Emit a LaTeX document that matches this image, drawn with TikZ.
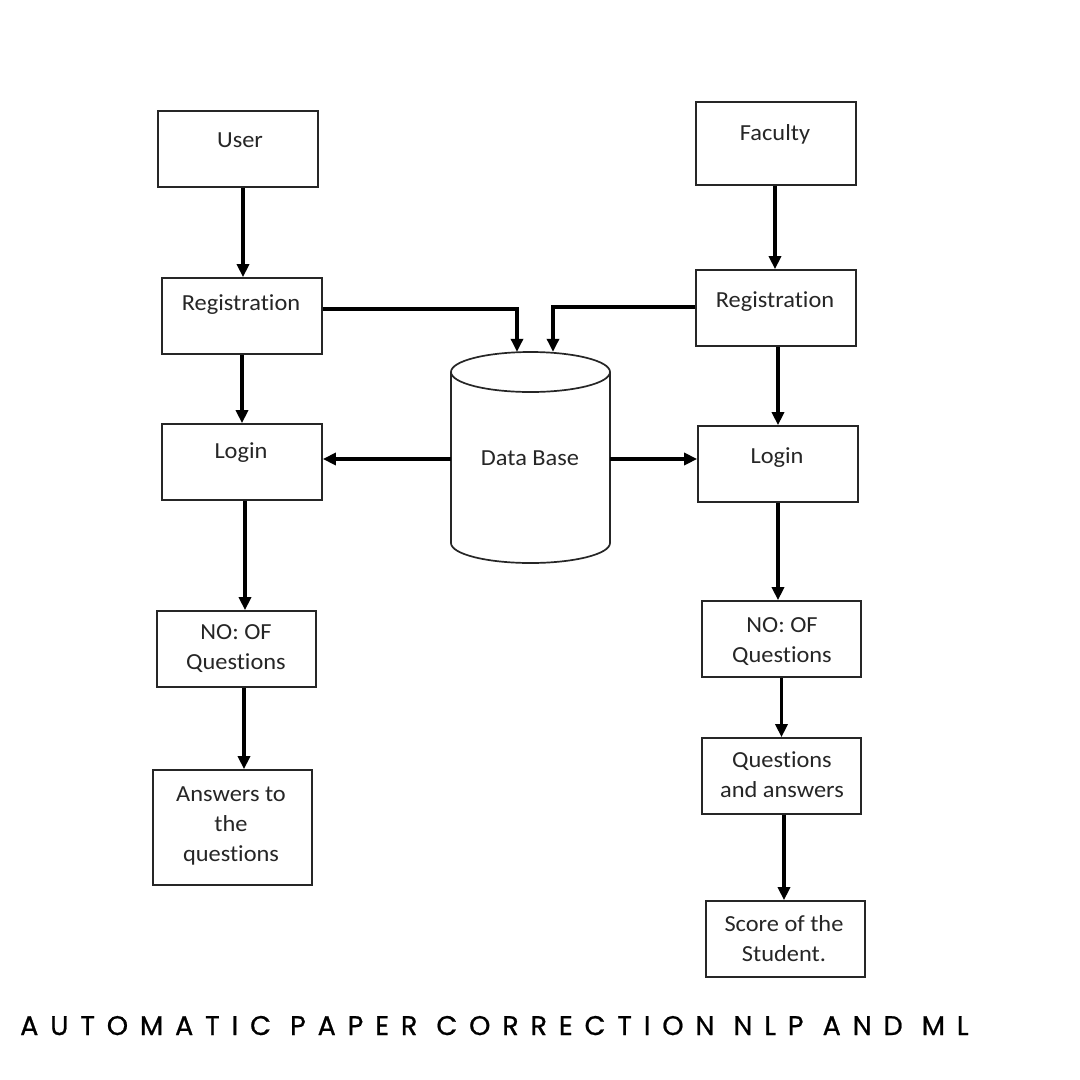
\documentclass[tikz,border=0pt]{standalone}
\usepackage{fontspec}
\setmainfont[Ligatures=NoCommon, FakeStretch=1.06]{Carlito}
\newfontfamily\titlefont[LetterSpace=44, FakeBold=0.8]{Poppins}
\usetikzlibrary{arrows.meta}
\begin{document}
\begin{tikzpicture}[x=1pt,y=-1pt,
  box/.style={draw=black!85, line width=1.7pt, minimum width=160pt, inner sep=0pt},
  txt/.style={anchor=base, align=center, inner sep=0pt, text=black!85, font=\fontsize{23}{30}\selectfont},
  arr/.style={line width=3.2pt, -{Triangle[length=13pt,width=12pt]}}]
\useasboundingbox (0,0) rectangle (1080,1080);
\fill[white] (0,0) rectangle (1080,1080);

% boxes (centers in pixel coordinates)
\node[box, minimum height=76pt] (user)  at (238,149) {};
\node[box, minimum height=83pt] (fac)   at (776,143.5) {};
\node[box, minimum height=76pt] (regL)  at (242,316) {};
\node[box, minimum height=76pt] (regR)  at (776,308) {};
\node[box, minimum height=76pt] (logL)  at (242,462) {};
\node[box, minimum height=76pt] (logR)  at (778,464) {};
\node[box, minimum height=76pt, minimum width=159pt] (noqL) at (236.5,649) {};
\node[box, minimum height=76pt, minimum width=159pt] (noqR) at (781.5,639) {};
\node[box, minimum height=115pt, minimum width=159pt] (ans) at (232.5,827.5) {};
\node[box, minimum height=76pt, minimum width=159pt] (qa) at (781.5,776) {};
\node[box, minimum height=76pt, minimum width=159pt] (score) at (785.5,939) {};

% database cylinder
\node[minimum width=159pt, minimum height=211pt, inner sep=0pt] (db) at (530.5,457.5) {};
\draw[draw=black!85, line width=1.7pt] (451,372) -- (451,543)
  arc[start angle=180, end angle=360, x radius=79.5pt, y radius=20pt] -- (610,372);
\draw[draw=black!85, line width=1.7pt] (530.5,372) ellipse [x radius=79.5pt, y radius=20pt];

% texts (anchor = baseline of last line)
\node[txt] (tuser) at (240,147) {User};
\node[txt] (tfac) at (775,140) {Faculty};
\node[txt] (tregL) at (241,310) {Registration};
\node[txt] (tregR) at (775,307) {Registration};
\node[txt] (tlogL) at (241,458) {Login};
\node[txt] (tlogR) at (777,463) {Login};
\node[txt] (tdb) at (530,465) {Data Base};
\node[txt] (tnoqL) at (236,669) {NO: OF\\Questions};
\node[txt] (tnoqR) at (782,662) {NO: OF\\Questions};
\node[txt] (tans) at (231,861) {Answers to\\the\\questions};
\node[txt] (tqa) at (782,797) {Questions\\and answers};
\node[txt] (tscore) at (784,961) {Score of the\\Student.};

% connectors
\draw[arr] ([xshift=5pt]user.south) -- ([xshift=5pt]user.south |- regL.north);
\draw[arr] ([xshift=-1pt]fac.south) -- ([xshift=-1pt]fac.south |- regR.north);
\draw[arr] ([yshift=7pt]regL.east) -| ([xshift=-13.5pt]db.north);
\draw[arr] ([yshift=1pt]regR.west) -| ([xshift=22.5pt]db.north);
\draw[arr] (regL.south) -- (logL.north);
\draw[arr] ([xshift=2pt]regR.south) -- ([xshift=2pt]regR.south |- logR.north);
\draw[arr] ([yshift=-1.5pt]db.west) -- ([yshift=-1.5pt]db.west -| logL.east);
\draw[arr] ([yshift=-1.5pt]db.east) -- ([yshift=-1.5pt]db.east -| logR.west);
\draw[arr] ([xshift=3pt]logL.south) -- ([xshift=3pt]logL.south |- noqL.north);
\draw[arr] (logR.south) -- (logR.south |- noqR.north);
\draw[arr] ([xshift=7.5pt]noqL.south) -- ([xshift=7.5pt]noqL.south |- ans.north);
\draw[arr] (noqR.south) -- (qa.north);
\draw[arr] ([xshift=2.5pt]qa.south) -- ([xshift=2.5pt]qa.south |- score.north);

% title
\node[anchor=base west, inner sep=0pt, font=\titlefont\fontsize{27}{30}\selectfont] (title) at (20,1035) {AUTOMATIC PAPER CORRECTION NLP AND ML};
\end{tikzpicture}
\end{document}
